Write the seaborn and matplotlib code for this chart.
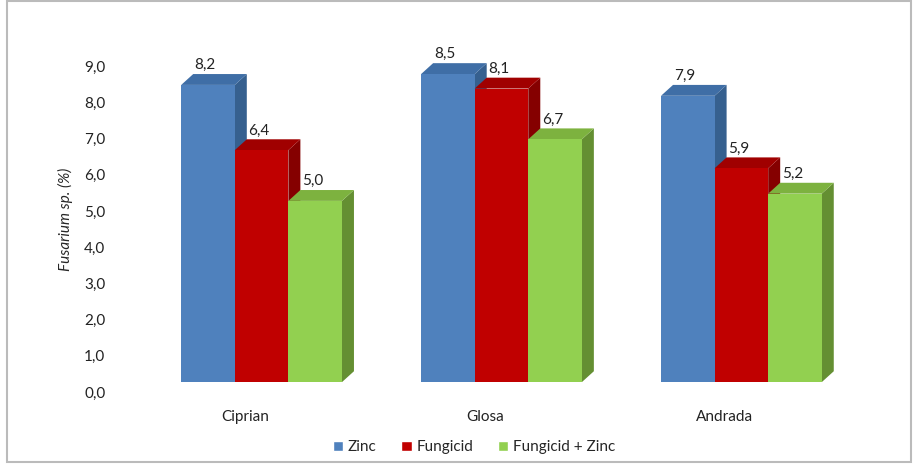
import matplotlib
matplotlib.use("Agg")
import matplotlib.pyplot as plt
import matplotlib.transforms as mtransforms
import seaborn as sns
import pandas as pd
from matplotlib.patches import Polygon, Rectangle
from matplotlib.ticker import FuncFormatter

# data
soiuri = ["Ciprian", "Glosa", "Andrada"]
tratamente = ["Zinc", "Fungicid", "Fungicid + Zinc"]
zinc = [8.2, 8.5, 7.9]
fungicid = [6.4, 8.1, 5.9]
fungicid_zinc = [5.0, 6.7, 5.2]

culori = ["#4F81BD", "#C00000", "#92D050"]
culori_lat = ["#36608F", "#850000", "#648F32"]
culori_sus = ["#3F6EA6", "#A00000", "#7DB23F"]

rows = []
for i, s in enumerate(soiuri):
    rows.append((s, tratamente[0], zinc[i]))
    rows.append((s, tratamente[1], fungicid[i]))
    rows.append((s, tratamente[2], fungicid_zinc[i]))
df = pd.DataFrame(rows, columns=["soi", "tratament", "val"])

sns.set_style("white")
plt.rcParams['font.family'] = ['Lato', 'DejaVu Sans']

fig = plt.figure(figsize=(9.18, 4.66), dpi=100)
ax = fig.add_axes([0.136, 0.18, 0.784, 0.70])

sns.barplot(data=df, x="soi", y="val", hue="tratament", palette=culori,
            width=0.67, gap=0, saturation=1, ax=ax, errorbar=None)

# 3D look: side and top faces
dx, dy = 0.05, 0.3
shift = 0.07
bars = [p for p in ax.patches if p.get_height() > 0]
for k, b in enumerate(bars):
    hi = k // 3
    b.set_x(b.get_x() + shift)
    x0 = b.get_x()
    x1 = x0 + b.get_width()
    top = b.get_height()
    b.set_zorder(3 + hi)
    b.set_edgecolor("none")
    side = Polygon([(x1, 0), (x1 + dx, dy), (x1 + dx, top + dy), (x1, top)],
                   closed=True, facecolor=culori_lat[hi], edgecolor="none", zorder=2.9 + hi)
    sus = Polygon([(x0, top), (x0 + dx, top + dy), (x1 + dx, top + dy), (x1, top)],
                  closed=True, facecolor=culori_sus[hi], edgecolor="none", zorder=2.9 + hi)
    ax.add_patch(side)
    ax.add_patch(sus)
    ax.text(x0 + b.get_width() * 0.45, top + dy + 0.05, f"{top:.1f}".replace(".", ","),
            ha="center", va="bottom", fontsize=11, color="#222222", zorder=10)

ax.set_xlim(-0.5, 2.5)
ax.set_ylim(0, 9)
ax.set_yticks(range(0, 10))
ax.yaxis.set_major_formatter(FuncFormatter(lambda v, p: f"{v:.1f}".replace(".", ",")))
ax.tick_params(axis="y", labelsize=11, length=0, pad=14, colors="#222222")
ax.tick_params(axis="x", labelsize=11, length=0, pad=20, colors="#222222")
# tick labels sit on the back wall, a little lower than the bars' floor
off = mtransforms.ScaledTranslation(0, -10 / 100, fig.dpi_scale_trans)
for lab in ax.get_yticklabels():
    lab.set_transform(lab.get_transform() + off)
ax.set_xlabel("")
ax.set_ylabel("Fusarium sp. (%)", fontstyle="italic", fontsize=11, labelpad=8)
sns.despine(ax=ax, left=True, bottom=True)

sns.move_legend(ax, "center", bbox_to_anchor=(0.485, -0.20), ncol=3, frameon=False,
                title=None, fontsize=11, handlelength=0.7, handleheight=0.7,
                handletextpad=0.3, columnspacing=1.6)

# chart frame
fig.patches.append(Rectangle((0.008, 0.008), 0.984, 0.99, transform=fig.transFigure,
                             fill=False, edgecolor="#BBBBBB", linewidth=1.5))

fig.savefig("out.png", dpi=100)
